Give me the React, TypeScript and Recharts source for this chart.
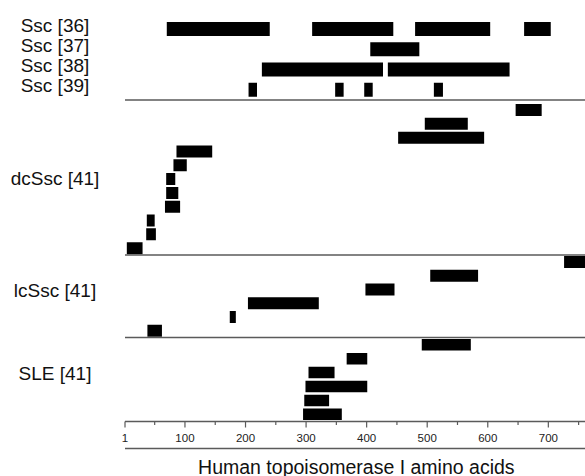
import React from 'react';
import { BarChart, Bar, XAxis, YAxis } from 'recharts';

const FONT = '"Liberation Sans", Arial, Helvetica, sans-serif';
const LINE = '#5a5a5a';
const INK = '#000';

// epitope regions (amino acid start, end), top row first
const sscRows = ['Ssc [36]', 'Ssc [37]', 'Ssc [38]', 'Ssc [39]'];
const sscRegions: [number, number][][] = [
  [[70, 240], [310, 444], [480, 604], [660, 704]],
  [[406, 487]],
  [[227, 427], [435, 636]],
  [[205, 219], [348, 362], [396, 410], [511, 526]],
];

const dcSscRegions: [number, number][] = [
  [646, 689], [496, 567], [452, 594], [86, 145], [81, 103], [69, 84],
  [69, 89], [67, 92], [37, 50], [36, 52], [4, 30],
];
const lcSscRegions: [number, number][] = [
  [726, 765], [505, 584], [398, 446], [204, 321], [174, 184], [38, 62],
];
const sleRegions: [number, number][] = [
  [491, 572], [367, 401], [304, 347], [299, 401], [297, 338], [295, 359],
];

const groupLabels = ['dcSsc [41]', 'lcSsc [41]', 'SLE [41]'];
const majorTicks = [1, 100, 200, 300, 400, 500, 600, 700];
const minorTicks = [50, 150, 250, 350, 450, 550, 650, 750];
const axisTitle = 'Human topoisomerase I amino acids';
const DOMAIN: [number, number] = [1, 765];

const CHART_W = 600;

const multiRows = (names: string[], regions: [number, number][][]) =>
  names.map((name, i) => {
    const row: any = { name };
    regions[i].forEach((r, j) => (row['s' + j] = r));
    return row;
  });

const singleRows = (regions: [number, number][]) =>
  regions.map((r, i) => ({ name: 'r' + i, s0: r }));

const SscTick = ({ y, payload }: any) => (
  <text x={55} y={y + 2.5} textAnchor="middle" fontSize={19} fontFamily={FONT} fill="#111">
    {payload.value}
  </text>
);

const groupLabel = (text: string, dy: number) => ({
  value: text,
  content: (p: any) => {
    const vb = p.viewBox || {};
    return (
      <text x={55} y={(vb.y ?? 0) + (vb.height ?? 0) / 2 + dy} textAnchor="middle" fontSize={19} fontFamily={FONT} fill="#111">
        {text}
      </text>
    );
  },
});

const AxisTick = ({ x, y, payload }: any) => {
  const major = majorTicks.includes(payload.value);
  return (
    <g>
      <line x1={x} x2={x} y1={y} y2={y + (major ? 6 : 3.5)} stroke={LINE} strokeWidth={1.2} />
      {major && (
        <text x={x} y={y + 20.6} textAnchor="middle" fontSize={11.5} fontFamily={FONT} fill="#222">
          {payload.value}
        </text>
      )}
    </g>
  );
};

interface TrackProps {
  data: any[];
  segs: number;
  top: number;
  padTop?: number;
  plotH: number;
  barSize: number;
  rowTicks?: boolean;
  label?: any;
  bottomAxis?: boolean;
}

const Track = ({ data, segs, top, padTop = 0, plotH, barSize, rowTicks, label, bottomAxis }: TrackProps) => (
  <div style={{ position: 'absolute', left: 0, top }}>
    <BarChart
      width={CHART_W}
      height={padTop + plotH + (bottomAxis ? 56 : 2)}
      data={data}
      layout="vertical"
      margin={{ top: padTop, right: 12.3, bottom: 0, left: 0 }}
      barGap={-barSize}
    >
      {bottomAxis ? (
        <XAxis
          type="number"
          domain={DOMAIN}
          allowDataOverflow
          ticks={[...majorTicks, ...minorTicks].sort((a, b) => a - b)}
          interval={0}
          height={27}
          tickSize={0}
          tickMargin={0}
          tickLine={false}
          axisLine={{ stroke: LINE, strokeWidth: 1.5 }}
          tick={(p: any) => <AxisTick {...p} />}
        />
      ) : (
        <XAxis
          type="number"
          domain={DOMAIN}
          allowDataOverflow
          height={2}
          tick={false}
          tickLine={false}
          axisLine={{ stroke: LINE, strokeWidth: 1.5 }}
        />
      )}
      {bottomAxis && (
        <XAxis
          xAxisId="title"
          type="number"
          domain={DOMAIN}
          height={29}
          tick={false}
          tickLine={false}
          axisLine={{ stroke: LINE, strokeWidth: 1.5 }}
          label={{ value: axisTitle, position: 'insideBottom', offset: 3.7, fontSize: 19.5, fontFamily: FONT, fill: '#111' }}
        />
      )}
      <YAxis
        type="category"
        dataKey="name"
        width={125}
        interval={0}
        axisLine={false}
        tickLine={false}
        tick={rowTicks ? (p: any) => <SscTick {...p} /> : false}
        label={label}
      />
      {Array.from({ length: segs }, (_, j) => (
        <Bar key={j} dataKey={'s' + j} fill={INK} barSize={barSize} isAnimationActive={false} />
      ))}
    </BarChart>
  </div>
);

export default function App() {
  return (
    <div
      style={{
        position: 'absolute',
        left: 0,
        top: 0,
        width: 585,
        height: 476,
        overflow: 'hidden',
        background: '#fff',
        fontFamily: FONT,
      }}
    >
      <Track data={multiRows(sscRows, sscRegions)} segs={4} top={0} padTop={19} plotH={81} barSize={14} rowTicks />
      <Track data={singleRows(dcSscRegions)} segs={1} top={103} plotH={152} barSize={12} label={groupLabel(groupLabels[0], 5.6)} />
      <Track data={singleRows(lcSscRegions)} segs={1} top={255} plotH={82.5} barSize={12} label={groupLabel(groupLabels[1], 0.4)} />
      <Track data={singleRows(sleRegions)} segs={1} top={337.5} plotH={83.5} barSize={11.5} label={groupLabel(groupLabels[2], 0.7)} bottomAxis />
    </div>
  );
}
